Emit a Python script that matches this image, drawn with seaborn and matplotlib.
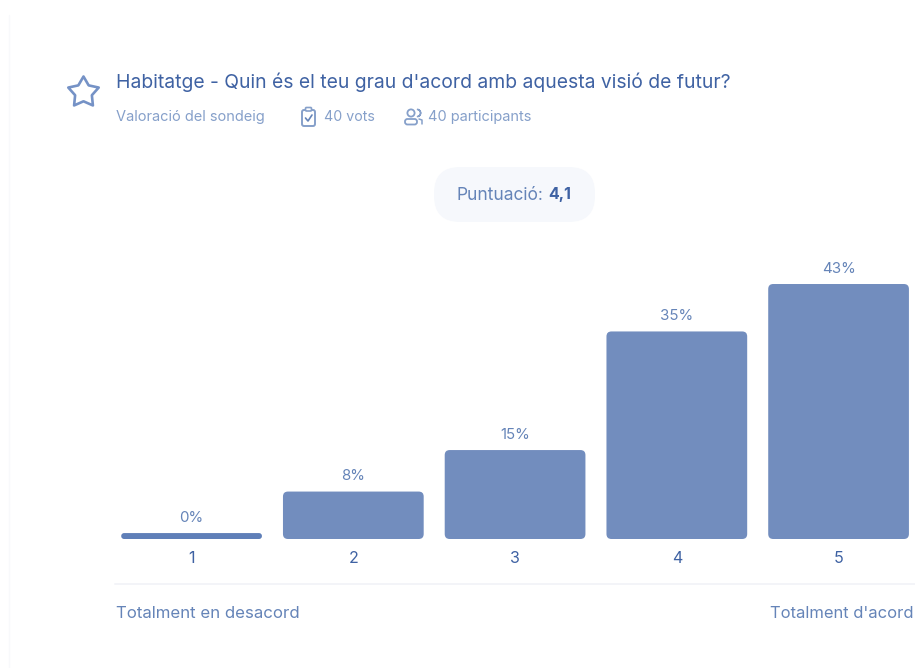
import numpy as np
import pandas as pd
import matplotlib
matplotlib.use('Agg')
import matplotlib.pyplot as plt
from matplotlib.patches import FancyBboxPatch, Circle, Wedge, Polygon
import seaborn as sns

# values
categories = ['1', '2', '3', '4', '5']
percents = [0, 8, 15, 35, 43]
percent_labels = ['0%', '8%', '15%', '35%', '43%']

title = "Habitatge - Quin és el teu grau d'acord amb aquesta visió de futur?"
subtitle = 'Valoració del sondeig'
votes = '40 vots'
people = '40 participants'
left_label = 'Totalment en desacord'
right_label = "Totalment d'acord"

BAR = '#728dbe'
THIN = '#5f7fb8'
DARK = '#3f62a3'
MID = '#6584b8'
LIGHT = '#86a0ca'

sns.set_theme(style='white')
plt.rcParams['font.family'] = ['Inter', 'DejaVu Sans']

W, H = 915, 668
fig = plt.figure(figsize=(W / 100, H / 100), dpi=100, facecolor='white')

# chart axes, placed in pixels
x0, x1, base, top = 110.7, 915.0, 539.0, 250.0
ax = fig.add_axes([x0 / W, 1 - base / H, (x1 - x0) / W, (base - top) / H])
px_per_pct = 5.93
px_per_cat = 161.75

# empty answers still get a thin bar, as in the original
df = pd.DataFrame({'answer': categories, 'pct': percents})
df['drawn'] = df['pct'].clip(lower=1)
sns.barplot(data=df, x='answer', y='drawn', color=BAR, width=0.87, saturation=1, ax=ax)
ax.set_xlim(-0.5, (x1 - x0) / px_per_cat - 0.5)
ax.set_ylim(0, (base - top) / px_per_pct)

# swap the square bars for rounded ones
for bar, lab, val in zip(list(ax.patches), percent_labels, percents):
    x, w, h = bar.get_x(), bar.get_width(), bar.get_height()
    r_px = 2.9 if val == 0 else 5.0
    r = r_px / px_per_cat
    fill = THIN if val == 0 else BAR
    ax.add_patch(FancyBboxPatch((x + r, r_px / px_per_pct), w - 2 * r, h - 2 * r_px / px_per_pct,
                                boxstyle=f'round,pad={r},rounding_size={r}',
                                mutation_aspect=px_per_cat / px_per_pct,
                                fc=fill, ec='none', clip_on=False))
    bar.set_visible(False)
    ax.annotate(lab, (x + w / 2, h), xytext=(0, 6), textcoords='offset points', ha='center',
                va='bottom', fontsize=10.8, color=MID)

ax.set_xlabel('')
ax.set_ylabel('')
ax.set_yticks([])
ax.tick_params(axis='x', length=0, pad=8.5, labelsize=11.5, labelcolor=DARK)
sns.despine(ax=ax, left=True, bottom=True, top=True, right=True)
ax.patch.set_alpha(0)

# overlay in pixel coordinates for the card furniture
ov = fig.add_axes([0, 0, 1, 1], zorder=-1)
ov.set_xlim(0, W)
ov.set_ylim(H, 0)
ov.axis('off')
ov.plot([9, 9], [15, H], color='#f8f9fb', lw=1)

ov.text(116, 82, title, fontsize=13.92, color=DARK, va='center', ha='left')
ov.text(116, 117, subtitle, fontsize=10.5, color=LIGHT, va='center')
ov.text(324, 117, votes, fontsize=10.2, color=LIGHT, va='center')
ov.text(428, 117, people, fontsize=10.5, color=LIGHT, va='center')

# star icon, fat with round joins
ang = np.deg2rad(-90 + 36 * np.arange(10))
rad = np.where(np.arange(10) % 2 == 0, 16, 8.8)
star = np.column_stack([83.5 + rad * np.cos(ang), 92.5 + rad * np.sin(ang)])
ov.add_patch(Polygon(star, closed=True, fc='none', ec='#7592c6', lw=1.9, joinstyle='round'))

# clipboard icon
ov.add_patch(FancyBboxPatch((302, 110), 13, 16, boxstyle='round,pad=0,rounding_size=2',
                            fc='white', ec=LIGHT, lw=1.4))
ov.add_patch(FancyBboxPatch((305.5, 107.5), 6, 3.5, boxstyle='round,pad=0,rounding_size=1',
                            fc='white', ec=LIGHT, lw=1.2))
ov.plot([305.5, 308, 312], [118, 121, 115], color=MID, lw=1.2)

# people icon
ov.add_patch(Circle((411, 113), 3.6, fc='none', ec=LIGHT, lw=1.3))
ov.add_patch(FancyBboxPatch((405, 119), 12, 5.5, boxstyle='round,pad=0,rounding_size=2.5',
                            fc='none', ec=LIGHT, lw=1.3))
ov.add_patch(Wedge((417, 113), 3.6, -80, 80, width=0.01, fc='none', ec=LIGHT, lw=1.1))
ov.plot([419, 422, 422], [119, 120, 124], color=LIGHT, lw=1.1)

# score pill
ov.add_patch(FancyBboxPatch((434, 167), 161, 55, boxstyle='round,pad=0,rounding_size=26',
                            fc='#f6f8fc', ec='none'))
ov.text(457, 195, 'Puntuació:', fontsize=12.5, color=MID, va='center')
ov.text(548, 195, '4,1', fontsize=11.5, color=DARK, va='center', fontweight='bold')

# footer
ov.plot([115, 915], [584, 584], color='#f3f4f8', lw=1.4)
ov.text(116, 613.5, left_label, fontsize=12.15, color=MID, va='center')
ov.text(914, 613.5, right_label, fontsize=11.95, color=MID, va='center', ha='right')

fig.savefig('out.png', dpi=100)
